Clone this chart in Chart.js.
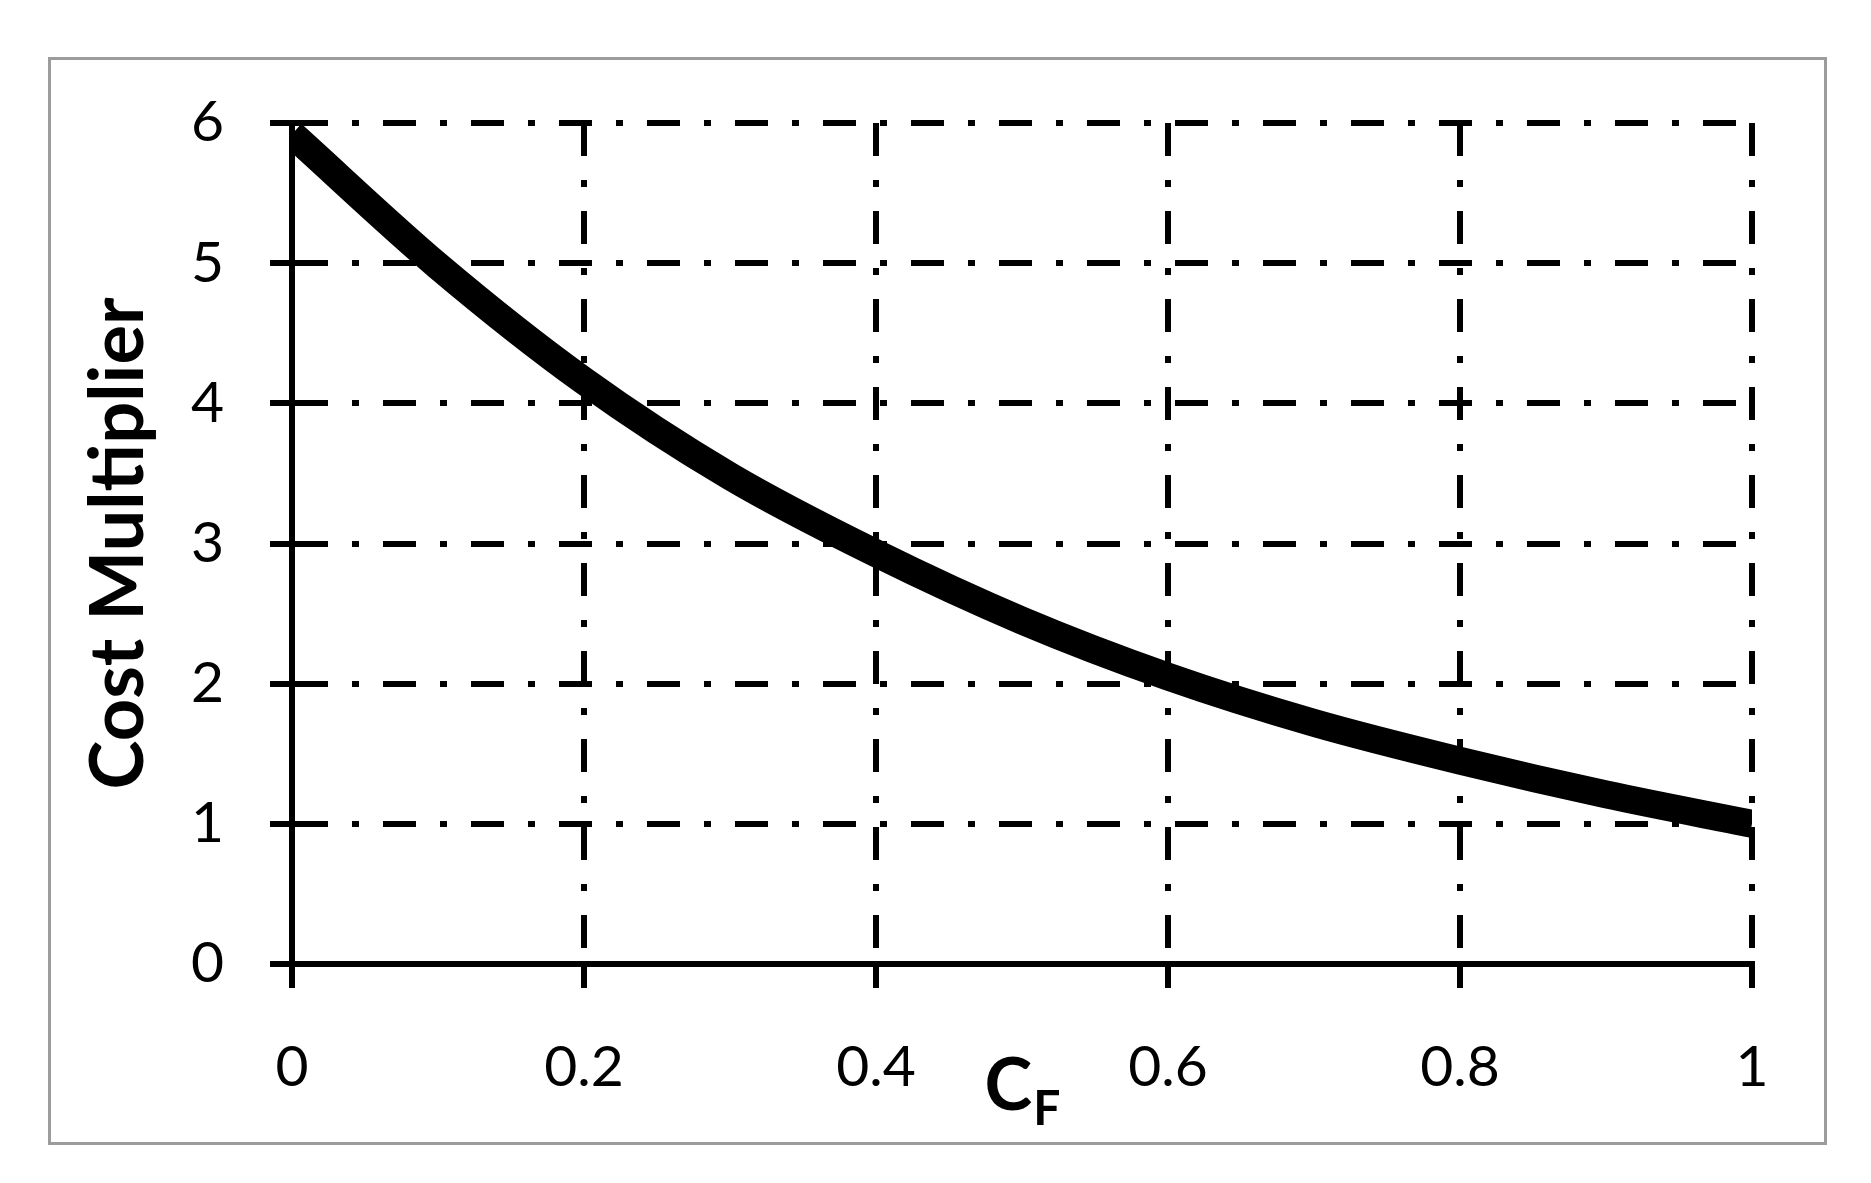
<!DOCTYPE html>
<html lang="en">
<head>
  <meta charset="UTF-8">
  <title>Cost Multiplier vs CF</title>
  <script src="https://cdn.jsdelivr.net/npm/chart.js"></script>
  <style>
    body {
      margin: 0;
      background-color: #fff;
      overflow: hidden;
    }
    #frame {
      position: absolute;
      left: 48px;
      top: 57px;
      width: 1773px;
      height: 1082px;
      border: 3px solid #9c9c9c;
    }
    #chartContainer {
      position: absolute;
      left: 0;
      top: 0;
      width: 1871px;
      height: 1183px;
    }
  </style>
</head>
<body>
  <div id="frame"></div>
  <div id="chartContainer">
    <canvas id="costChart"></canvas>
  </div>

  <script>
    // values
    const cfValues = [0, 0.1, 0.2, 0.3, 0.4, 0.5, 0.6, 0.7, 0.8, 0.9, 1.0];
    const costMultiplier = [5.92, 4.98, 4.16, 3.48, 2.93, 2.45, 2.05, 1.72, 1.45, 1.21, 1.0];
    const xTickLabels = ['0', '0.2', '0.4', '0.6', '0.8', '1'];
    const yTickLabels = ['0', '1', '2', '3', '4', '5', '6'];

    const FONT = 'Lato, "Open Sans", sans-serif';
    const gridDash = [33, 24, 7, 24];

    // x axis title has a subscript, so it is drawn by hand
    const cfTitlePlugin = {
      id: 'cfTitle',
      afterDraw(chart) {
        const ctx = chart.ctx;
        const area = chart.chartArea;
        const cx = (area.left + area.right) / 2;
        ctx.save();
        ctx.fillStyle = '#000';
        ctx.textBaseline = 'alphabetic';
        ctx.font = 'bold 72px ' + FONT;
        const cw = ctx.measureText('C').width;
        ctx.font = 'bold 48px ' + FONT;
        const fw = ctx.measureText('F').width;
        const x0 = cx - (cw + fw) / 2;
        ctx.font = 'bold 72px ' + FONT;
        ctx.fillText('C', x0, 1110);
        ctx.font = 'bold 48px ' + FONT;
        ctx.fillText('F', x0 + cw + 1, 1125);
        ctx.restore();
      }
    };

    const points = cfValues.map((x, i) => ({ x: x, y: costMultiplier[i] }));

    const costChart = new Chart(document.getElementById('costChart'), {
      type: 'line',
      data: {
        datasets: [
          {
            label: 'Cost Multiplier',
            data: points,
            borderColor: '#000',
            borderWidth: 28,
            pointRadius: 0,
            cubicInterpolationMode: 'monotone',
            fill: false,
            clip: 0,
          },
        ],
      },
      options: {
        responsive: true,
        maintainAspectRatio: false,
        animation: false,
        layout: {
          padding: { top: 123, right: 119, bottom: 0, left: 0 },
        },
        plugins: {
          legend: { display: false },
          tooltip: { enabled: false },
        },
        scales: {
          x: {
            type: 'linear',
            min: 0,
            max: 1,
            afterFit: (scale) => { scale.height = 219; },
            ticks: {
              stepSize: 0.2,
              padding: 45,
              color: '#000',
              font: { family: FONT, size: 57 },
              maxRotation: 0,
              callback: (v, i) => xTickLabels[i],
            },
            grid: {
              color: '#000',
              lineWidth: 6,
              tickLength: 24,
              tickBorderDash: [],
              tickWidth: 6,
              tickColor: '#000',
            },
            // in v4 border.dash sets the dash of the grid lines
            border: { display: true, color: '#000', width: 6, dash: gridDash },
          },
          y: {
            min: 0,
            max: 6,
            afterFit: (scale) => { scale.width = 292; },
            ticks: {
              stepSize: 1,
              padding: 46,
              color: '#000',
              font: { family: FONT, size: 57 },
              callback: (v, i) => yTickLabels[i],
            },
            grid: {
              color: '#000',
              lineWidth: 6,
              tickLength: 22,
              tickBorderDash: [],
              tickWidth: 6,
              tickColor: '#000',
            },
            border: { display: true, color: '#000', width: 6, dash: gridDash },
            title: {
              display: true,
              text: 'Cost Multiplier',
              color: '#000',
              font: { family: FONT, size: 74, weight: 'bold' },
              padding: { top: 75, bottom: 0 },
            },
          },
        },
      },
      plugins: [cfTitlePlugin],
    });
  </script>
</body>
</html>
